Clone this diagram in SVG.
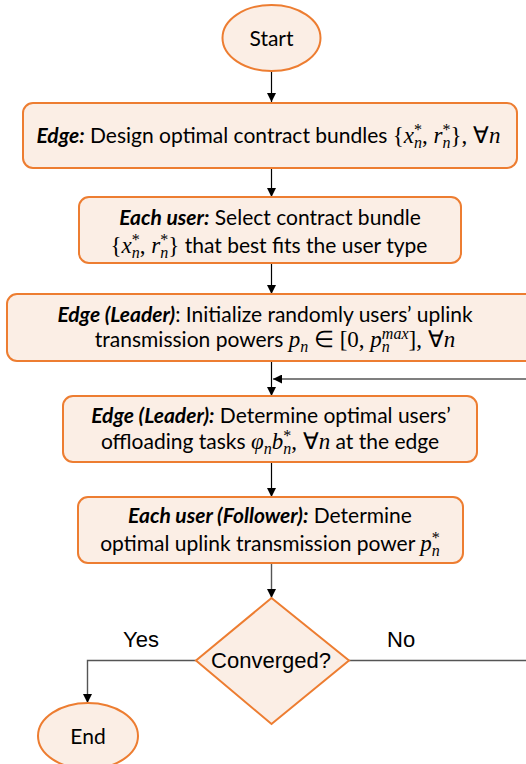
<svg xmlns="http://www.w3.org/2000/svg" width="526" height="764" viewBox="0 0 526 764">
<defs>
<marker id="ah" viewBox="0 0 10 10" refX="10" refY="5" markerWidth="9" markerHeight="9" markerUnits="userSpaceOnUse" orient="auto">
<path d="M0,0 L10,5 L0,10 z" fill="#000"/>
</marker>
<style>
.box{fill:#FBEEE5;stroke:#ED7D31;stroke-width:2}
.ln{fill:none;stroke:#000;stroke-width:1.2}
.lg{fill:none;stroke:#555;stroke-width:1.4}
.t{font-family:Lato,"Liberation Sans",sans-serif;font-size:21px;fill:#000}
.b{font-weight:bold;font-style:italic}
.m{font-family:"Liberation Serif",serif;font-size:23px}
.mi{font-family:"Liberation Serif",serif;font-style:italic;font-size:23px}
.sc{font-size:16px}
.a{font-family:"Liberation Sans",Arial,sans-serif;font-size:22px;fill:#000}
</style>
</defs>
<g id="connectors">
<line class="ln" x1="271.5" y1="71" x2="271.5" y2="102" marker-end="url(#ah)"/>
<line class="ln" x1="271.5" y1="168" x2="271.5" y2="197" marker-end="url(#ah)"/>
<line class="ln" x1="271.5" y1="263" x2="271.5" y2="294" marker-end="url(#ah)"/>
<line class="ln" x1="271.5" y1="361" x2="271.5" y2="396" marker-end="url(#ah)"/>
<line class="ln" x1="526" y1="379" x2="273" y2="379" marker-end="url(#ah)"/>
<line class="ln" x1="271.5" y1="462" x2="271.5" y2="497" marker-end="url(#ah)"/>
<line class="lg" x1="271.5" y1="563" x2="271.5" y2="598" marker-end="url(#ah)"/>
<polyline class="lg" points="196,660.5 87.5,660.5 87.5,703" marker-end="url(#ah)"/>
<line class="lg" x1="349" y1="660.5" x2="526" y2="660.5"/>
<text class="a" x="123" y="647">Yes</text>
<text class="a" x="387" y="647">No</text>
</g>
<g id="start">
<ellipse class="box" cx="271.5" cy="38" rx="49" ry="33"/>
<text class="t" x="271.5" y="46" text-anchor="middle">Start</text>
</g>
<g id="design">
<rect class="box" x="23" y="103" width="494" height="65" rx="10"/>
<text class="t" x="268.5" y="143" text-anchor="middle"><tspan class="b">Edge:</tspan> Design optimal contract bundles <tspan class="m">{</tspan><tspan class="mi">x</tspan><tspan class="m sc" dy="-8">*</tspan><tspan class="mi sc" dx="-8" dy="13">n</tspan><tspan class="m" dy="-5">, </tspan><tspan class="mi">r</tspan><tspan class="m sc" dy="-8">*</tspan><tspan class="mi sc" dx="-8" dy="13">n</tspan><tspan class="m" dy="-5">}, ∀</tspan><tspan class="mi">n</tspan></text>
</g>
<g id="select">
<rect class="box" x="79" y="197" width="382" height="66" rx="10"/>
<text class="t" x="270" y="225" text-anchor="middle"><tspan class="b">Each user:</tspan> Select contract bundle</text>
<text class="t" x="269" y="253" text-anchor="middle"><tspan class="m">{</tspan><tspan class="mi">x</tspan><tspan class="m sc" dy="-8">*</tspan><tspan class="mi sc" dx="-8" dy="13">n</tspan><tspan class="m" dy="-5">, </tspan><tspan class="mi">r</tspan><tspan class="m sc" dy="-8">*</tspan><tspan class="mi sc" dx="-8" dy="13">n</tspan><tspan class="m" dy="-5">}</tspan> that best fits the user type</text>
</g>
<g id="init">
<rect class="box" x="7" y="294" width="540" height="67" rx="10"/>
<text class="t" x="265" y="322" text-anchor="middle"><tspan class="b">Edge (Leader)</tspan>: Initialize randomly users’ uplink</text>
<text class="t" x="275" y="347" text-anchor="middle">transmission powers <tspan class="mi">p</tspan><tspan class="mi sc" dy="5">n</tspan><tspan class="m" dy="-5"> ∈ [0, </tspan><tspan class="mi">p</tspan><tspan class="mi sc" dy="5">n</tspan><tspan class="mi sc" dx="-8" dy="-13">max</tspan><tspan class="m" dy="8">], ∀</tspan><tspan class="mi">n</tspan></text>
</g>
<g id="offload">
<rect class="box" x="63" y="396" width="414" height="66" rx="10"/>
<text class="t" x="271" y="423" text-anchor="middle"><tspan class="b">Edge (Leader):</tspan> Determine optimal users’</text>
<text class="t" x="270" y="449" text-anchor="middle">offloading tasks <tspan class="mi">φ</tspan><tspan class="mi sc" dy="5">n</tspan><tspan class="mi" dy="-5">b</tspan><tspan class="m sc" dy="-8">*</tspan><tspan class="mi sc" dx="-8" dy="13">n</tspan><tspan class="m" dy="-5">, ∀</tspan><tspan class="mi">n</tspan> at the edge</text>
</g>
<g id="power">
<rect class="box" x="78" y="497" width="385" height="66" rx="10"/>
<text class="t" x="270" y="523" text-anchor="middle"><tspan class="b">Each user (Follower):</tspan> Determine</text>
<text class="t" x="270" y="551" text-anchor="middle">optimal uplink transmission power <tspan class="mi">p</tspan><tspan class="m sc" dy="-8">*</tspan><tspan class="mi sc" dx="-8" dy="13">n</tspan></text>
</g>
<g id="converged">
<polygon class="box" points="271.5,598 349,660.5 271.5,724 196,660.5"/>
<text class="a" x="271" y="668" text-anchor="middle">Converged?</text>
</g>
<g id="end">
<ellipse class="box" cx="88" cy="736" rx="50" ry="33"/>
<text class="t" x="88" y="744" text-anchor="middle">End</text>
</g>
</svg>
